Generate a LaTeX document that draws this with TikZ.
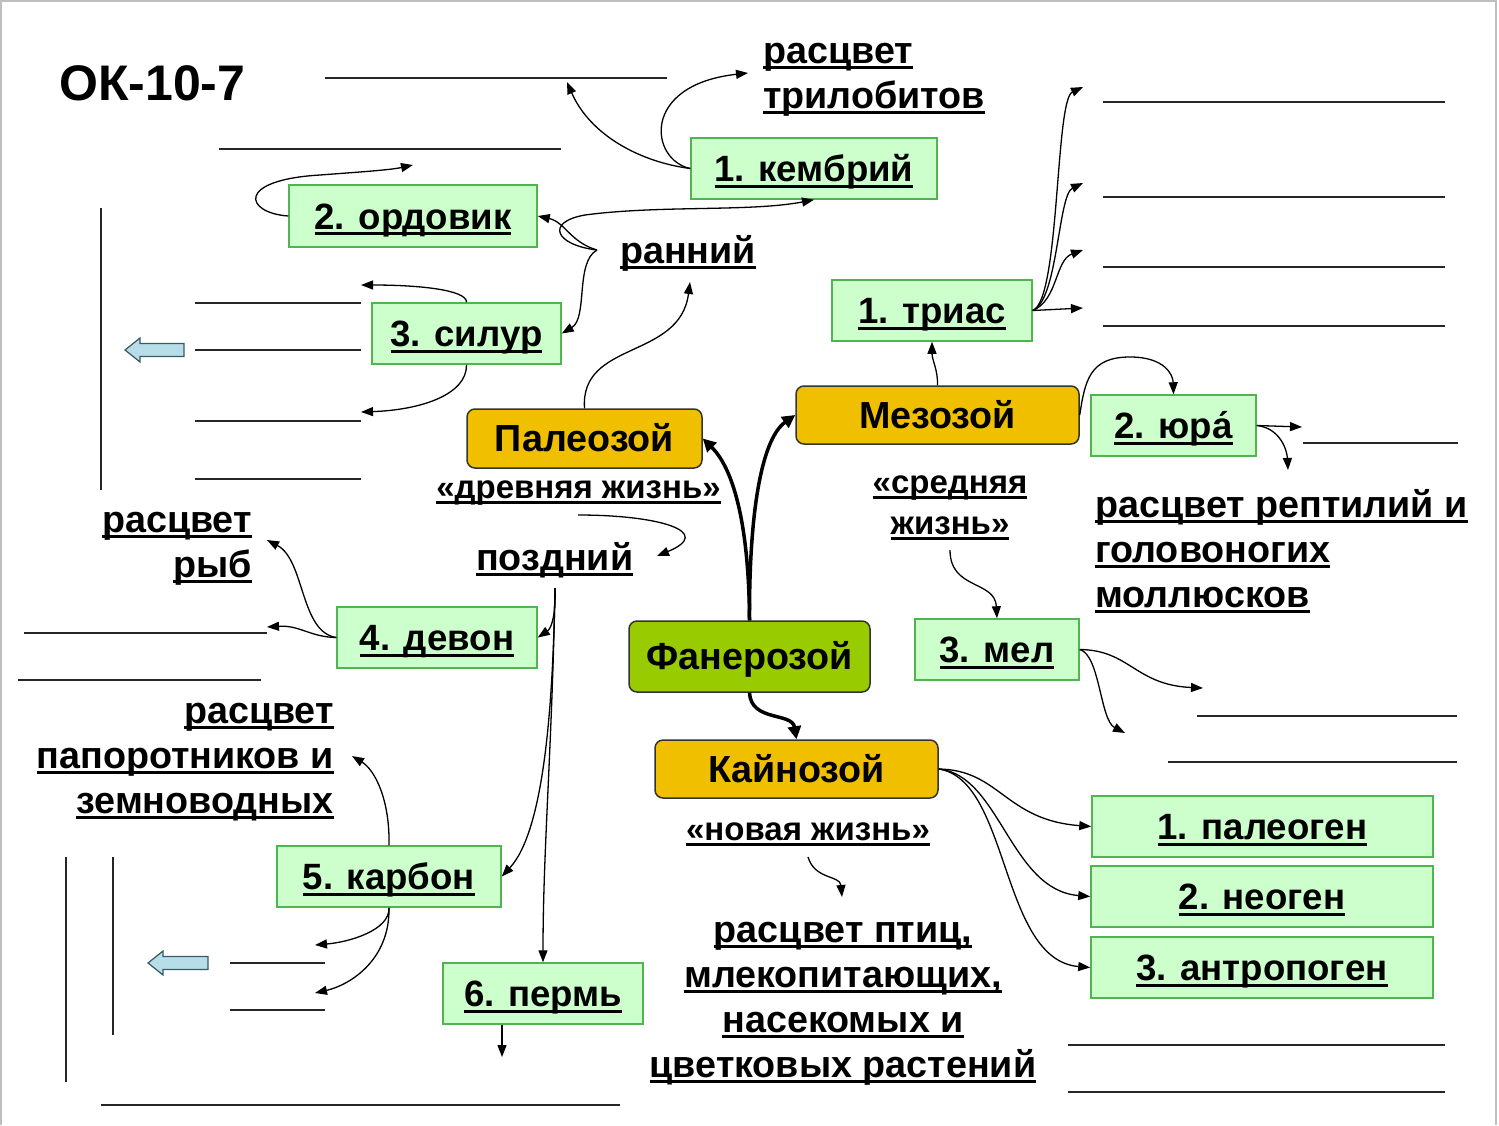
\documentclass[tikz,border=0pt]{standalone}
\usepackage{fontspec}
\setmainfont{Liberation Sans}
\usetikzlibrary{arrows.meta}
\definecolor{gold}{RGB}{240,192,0}
\definecolor{fangreen}{RGB}{153,204,0}
\definecolor{pgfill}{RGB}{204,255,204}
\definecolor{pgdraw}{RGB}{80,180,80}
\definecolor{barrowfill}{RGB}{183,221,232}
\definecolor{barrowdraw}{RGB}{60,90,100}
\newcommand\ulx[1]{\setbox0=\hbox{#1}\rlap{\smash{\rule[-6pt]{\wd0}{3pt}}}\box0}
\tikzset{
  every node/.style={font=\bfseries\fontsize{37.7}{45}\selectfont},
  period/.style={draw=pgdraw, fill=pgfill, line width=1.5pt, text height=30pt, text depth=4pt, inner sep=0pt, font=\bfseries\fontsize{36.6}{45}\selectfont},
  era/.style={draw=black!80, fill=gold, rounded corners=8pt, line width=1.5pt, text height=30pt, text depth=4pt, inner sep=0pt},
  lbl/.style={inner sep=0pt},
  smalltxt/.style={font=\bfseries\fontsize{33}{41}\selectfont},
  conn/.style={line width=1.3pt, -{Triangle[length=12pt,width=9pt]}},
  bigconn/.style={line width=3.5pt, -{Triangle[length=13pt,width=13pt]}},
  blank/.style={line width=1.5pt, draw=black!85},
  blockarrow/.style={draw=barrowdraw, fill=barrowfill, line width=1.2pt},
}
\begin{document}
\begin{tikzpicture}[x=1pt,y=-1pt]
\useasboundingbox (0,0) rectangle (1499,1125);
\draw[gray!50, line width=1.2pt] (1,1125) -- (1,1) -- (1496,1) -- (1496,1125);

% title
\node[lbl, anchor=base west, font=\bfseries\fontsize{50}{52}\selectfont] (title) at (59,100) {ОК-10-7};

% period boxes
\node[period, minimum width=246, minimum height=61] (kem) at (814,168.5) {\ulx{1. кембрий}};
\node[period, minimum width=248, minimum height=62] (ord) at (413,216) {\ulx{2. ордовик}};
\node[period, minimum width=189, minimum height=61] (sil) at (466.5,333.5) {\ulx{3. силур}};
\node[period, minimum width=200, minimum height=61] (dev) at (437,637.5) {\ulx{4. девон}};
\node[period, minimum width=224, minimum height=61] (karb) at (389,876.5) {\ulx{5. карбон}};
\node[period, minimum width=200, minimum height=61] (perm) at (543,993.5) {\ulx{6. пермь}};
\node[period, minimum width=200, minimum height=61] (trias) at (932,310.5) {\ulx{1. триас}};
\node[period, minimum width=165, minimum height=61] (jura) at (1173.5,425.5) {\ulx{2. юра́}};
\node[period, minimum width=164, minimum height=61] (mel) at (997,649.5) {\ulx{3. мел}};
\node[period, minimum width=341, minimum height=61] (paleo) at (1262.5,826.5) {\ulx{1. палеоген}};
\node[period, minimum width=342, minimum height=61] (neo) at (1262,896.5) {\ulx{2. неоген}};
\node[period, minimum width=342, minimum height=61] (antr) at (1262,967.5) {\ulx{3. антропоген}};

% era boxes
\node[era, minimum width=235, minimum height=59] (pal) at (584.5,438.5) {Палеозой};
\node[era, minimum width=283, minimum height=58] (mez) at (937.5,415) {Мезозой};
\node[era, minimum width=283, minimum height=58] (kai) at (796.5,769) {Кайнозой};
\node[era, fill=fangreen, minimum width=241, minimum height=71] (fan) at (749.5,656.5) {Фанерозой};

% labels
\node[lbl, anchor=base west] (tril) at (763,63) {\begin{tabular}[t]{@{}l@{}}\ulx{расцвет}\\\ulx{трилобитов}\end{tabular}};
\node[lbl, anchor=base west] (ran) at (620,263) {\ulx{ранний}};
\node[lbl, smalltxt, anchor=base] (drev) at (578.5,498) {\ulx{«древняя жизнь»}};
\node[lbl, anchor=base west] (pozd) at (476,570) {\ulx{поздний}};
\node[lbl, anchor=base east] (ryb) at (252,532) {\begin{tabular}[t]{@{}r@{}}\ulx{расцвет}\\\ulx{рыб}\end{tabular}};
\node[lbl, anchor=base east] (papor) at (334,723) {\begin{tabular}[t]{@{}r@{}}\ulx{расцвет}\\\ulx{папоротников и}\\\ulx{земноводных}\end{tabular}};
\node[lbl, smalltxt, anchor=base] (sred) at (950,493) {\begin{tabular}[t]{@{}c@{}}\ulx{«средняя}\\\ulx{жизнь»}\end{tabular}};
\node[lbl, anchor=base west] (rept) at (1095,517) {\begin{tabular}[t]{@{}l@{}}\ulx{расцвет рептилий и}\\\ulx{головоногих}\\\ulx{моллюсков}\end{tabular}};
\node[lbl, smalltxt, anchor=base] (nov) at (808,840) {\ulx{«новая жизнь»}};
\node[lbl, anchor=base] (ptic) at (843,942) {\begin{tabular}[t]{@{}c@{}}\ulx{расцвет птиц,}\\\ulx{млекопитающих,}\\\ulx{насекомых и}\\\ulx{цветковых растений}\end{tabular}};

% blank answer lines
\draw[blank] (325,78) -- (667,78);
\draw[blank] (219,149) -- (561,149);
\draw[blank] (101,208) -- (101,490);
\draw[blank] (195,303) -- (361,303);
\draw[blank] (195,350) -- (361,350);
\draw[blank] (195,421) -- (361,421);
\draw[blank] (195,479) -- (361,479);
\draw[blank] (24,633) -- (267,633);
\draw[blank] (18,680) -- (261,680);
\draw[blank] (66,857) -- (66,1082);
\draw[blank] (113,857) -- (113,1035);
\draw[blank] (230,963) -- (325,963);
\draw[blank] (230,1010) -- (325,1010);
\draw[blank] (101,1105) -- (620,1105);
\draw[blank] (1103,102) -- (1445,102);
\draw[blank] (1103,197) -- (1445,197);
\draw[blank] (1103,267) -- (1445,267);
\draw[blank] (1103,326) -- (1445,326);
\draw[blank] (1303,443) -- (1458,443);
\draw[blank] (1197,716) -- (1457,716);
\draw[blank] (1168,762) -- (1457,762);
\draw[blank] (1068,1045) -- (1445,1045);
\draw[blank] (1068,1092) -- (1445,1092);

% block arrows
\draw[blockarrow] (125,350) -- (140,338) -- (140,343.5) -- (184,343.5) -- (184,356.5) -- (140,356.5) -- (140,362) -- cycle;
\draw[blockarrow] (148,963) -- (163,951) -- (163,956.5) -- (208,956.5) -- (208,969.5) -- (163,969.5) -- (163,975) -- cycle;

% free-end coordinates
\coordinate (tL1) at (567,82);
\coordinate (tTril) at (748,73);
\coordinate (tOrdLoop) at (413,165);
\coordinate (ranO) at (597,250);
\coordinate (tRan) at (690,282);
\coordinate (tSilUp) at (361,285);
\coordinate (tSilDn) at (361,412);
\coordinate (drevO) at (578,515);
\coordinate (tPozd) at (657,556);
\coordinate (pozdO) at (555,588);
\coordinate (tRyb) at (267,540);
\coordinate (tDevL) at (267,627);
\coordinate (tPapor) at (352,756);
\coordinate (tKarb1) at (315,945);
\coordinate (tKarb2) at (315,993);
\coordinate (permO) at (502,1025);
\coordinate (tPerm) at (502,1057);
\coordinate (tTr1) at (1083,87);
\coordinate (tTr2) at (1083,183);
\coordinate (tTr3) at (1083,250);
\coordinate (tTr4) at (1083,308);
\coordinate (tJu1) at (1302,427);
\coordinate (tJu2) at (1288,470);
\coordinate (sredO) at (950,550);
\coordinate (tMel1) at (1203,688);
\coordinate (tMel2) at (1125,733);
\coordinate (novO) at (808,857);
\coordinate (tNov) at (842,897);

% connectors
\draw[conn] (kem.west) .. controls (640,162) and (590,135) .. (tL1);
\draw[conn] (kem.west) .. controls (650,160) and (640,85) .. (tTril);
\draw[conn] (ord.west) .. controls (245,213) and (235,180) .. (320,175) .. controls (360,172) and (390,170) .. (tOrdLoop);
\draw[conn] (ranO) .. controls (570,242) and (565,222) .. (ord.east);
\draw[conn] (ranO) .. controls (555,245) and (545,222) .. (585,215) .. controls (660,205) and (750,212) .. (kem.south);
\draw[conn] (ranO) .. controls (575,262) and (588,318) .. (sil.east);
\draw[conn] (pal.north) .. controls (580,340) and (680,360) .. (tRan);
\draw[conn] (sil.north) .. controls (467,290) and (420,285) .. (tSilUp);
\draw[conn] (sil.south) .. controls (467,395) and (420,410) .. (tSilDn);
\draw[conn] (drevO) .. controls (660,515) and (715,532) .. (tPozd);
\draw[conn] (pozdO) .. controls (556,612) and (552,628) .. (dev.east);
\draw[conn] (pozdO) .. controls (553,700) and (545,830) .. (karb.east);
\draw[conn] (pozdO) .. controls (552,750) and (543,850) .. (perm.north);
\draw[conn] (dev.west) .. controls (300,632) and (305,560) .. (tRyb);
\draw[conn] (dev.west) .. controls (310,637) and (300,625) .. (tDevL);
\draw[conn] (karb.north) .. controls (390,800) and (375,770) .. (tPapor);
\draw[conn] (karb.south) .. controls (390,930) and (350,942) .. (tKarb1);
\draw[conn] (karb.south) .. controls (390,960) and (350,985) .. (tKarb2);
\draw[conn] (permO) -- (tPerm);
\draw[bigconn] (fan.north) .. controls (749,530) and (735,470) .. (pal.east);
\draw[bigconn] (fan.north) .. controls (749,520) and (760,440) .. (mez.west);
\draw[bigconn] (fan.south) .. controls (751,722) and (792,712) .. (kai.north);
\draw[conn] (mez.north) .. controls (938,370) and (932,360) .. (trias.south);
\draw[conn] (mez.east) .. controls (1085,380) and (1090,357) .. (1130,357) .. controls (1165,357) and (1173,375) .. (jura.north);
\draw[conn] (trias.east) .. controls (1060,300) and (1055,100) .. (tTr1);
\draw[conn] (trias.east) .. controls (1058,300) and (1058,195) .. (tTr2);
\draw[conn] (trias.east) .. controls (1058,300) and (1055,260) .. (tTr3);
\draw[conn] (trias.east) -- (tTr4);
\draw[conn] (jura.east) -- (tJu1);
\draw[conn] (jura.east) .. controls (1280,428) and (1287,450) .. (tJu2);
\draw[conn] (sredO) .. controls (950,590) and (995,580) .. (mel.north);
\draw[conn] (mel.east) .. controls (1130,650) and (1135,685) .. (tMel1);
\draw[conn] (mel.east) .. controls (1100,655) and (1100,720) .. (tMel2);
\draw[conn] (kai.east) .. controls (1000,770) and (1005,820) .. (paleo.west);
\draw[conn] (kai.east) .. controls (1000,775) and (1010,890) .. (neo.west);
\draw[conn] (kai.east) .. controls (1010,780) and (1000,960) .. (antr.west);
\draw[conn] (novO) .. controls (815,880) and (840,875) .. (tNov);
\end{tikzpicture}
\end{document}
